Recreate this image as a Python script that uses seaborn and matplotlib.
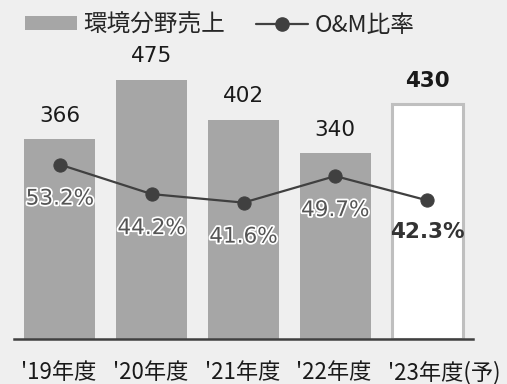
import numpy as np
import pandas as pd
import matplotlib
matplotlib.use("Agg")
import matplotlib.pyplot as plt
import matplotlib.patheffects as pe
import matplotlib.transforms as mtransforms
from matplotlib.patches import Patch
from matplotlib.lines import Line2D
import seaborn as sns

# Environmental segment sales and O&M share by fiscal year
categories = ["'19年度", "'20年度", "'21年度", "'22年度", "'23年度(予)"]
sales = [366, 475, 402, 340, 430]
om_ratio = [53.2, 44.2, 41.6, 49.7, 42.3]
ratio_labels = ["53.2%", "44.2%", "41.6%", "49.7%", "42.3%"]

sns.set_theme(style="white")
plt.rcParams["font.family"] = ["Noto Sans CJK JP", "DejaVu Sans"]

BG = "#efefef"
BAR = "#a6a6a6"
LINE = "#404040"

fig = plt.figure(figsize=(5.07, 3.84), dpi=100, facecolor=BG)
ax = fig.add_axes([14 / 507, 45 / 384, 459 / 507, 299 / 384])
ax.set_facecolor(BG)

df = pd.DataFrame({"year": categories, "sales": sales, "ratio": om_ratio})

colors = [BAR, BAR, BAR, BAR, "white"]
sns.barplot(data=df, x="year", y="sales", hue="year", palette=colors,
            legend=False, width=0.775, saturation=1, ax=ax)
for i, bar in enumerate(ax.patches):
    if i == len(categories) - 1:
        bar.set_edgecolor("#bfbfbf")
        bar.set_linewidth(2.2)
    else:
        bar.set_edgecolor("none")

ax.set_xlim(-0.5, 4.5)
ax.set_ylim(0, 548)

# value labels above bars
for i, v in enumerate(sales):
    last = i == len(sales) - 1
    ax.annotate(str(v), (i, v), xytext=(0, 17), textcoords="offset points",
                ha="center", va="center", fontsize=15.5,
                family=["DejaVu Sans"], color="#1a1a1a",
                fontweight="bold" if last else "normal")

# O&M ratio line on a secondary axis sharing the baseline
ax2 = ax.twinx()
sns.lineplot(x=np.arange(len(categories)), y=om_ratio, ax=ax2, color=LINE,
             linewidth=1.6, marker="o", markersize=9.5,
             markeredgecolor=LINE, markerfacecolor=LINE)
ax2.set_ylim(0, 91.2)
ax2.set_xlim(-0.5, 4.5)

for i, (v, lab) in enumerate(zip(om_ratio, ratio_labels)):
    last = i == len(om_ratio) - 1
    if last:
        ax2.annotate(lab, (i, v), xytext=(0, -23), textcoords="offset points",
                     ha="center", va="center", fontsize=15.5,
                     family=["DejaVu Sans"], color="#333333",
                     fontweight="bold")
    else:
        ax2.annotate(lab, (i, v), xytext=(0, -24.5), textcoords="offset points",
                     ha="center", va="center", fontsize=15.5,
                     family=["DejaVu Sans"], color="#555555",
                     path_effects=[pe.withStroke(linewidth=2.5, foreground="white")])

for a in (ax, ax2):
    for s in ("top", "right", "left"):
        a.spines[s].set_visible(False)
    a.set_ylabel("")
    a.set_xlabel("")
    a.set_yticks([])
ax2.spines["bottom"].set_visible(False)
ax.spines["bottom"].set_color(LINE)
ax.spines["bottom"].set_linewidth(1.8)
ax.tick_params(axis="x", length=0, pad=16, labelsize=16, colors="#1a1a1a")
ax2.tick_params(axis="x", length=0, labelbottom=False)

# year labels start a fixed distance left of each bar centre
shift = mtransforms.ScaledTranslation(-39 / 100, 0, fig.dpi_scale_trans)
for lbl in ax.get_xticklabels():
    lbl.set_horizontalalignment("left")
    lbl.set_transform(lbl.get_transform() + shift)

handles = [
    Patch(facecolor=BAR, edgecolor="none"),
    Line2D([0], [0], color=LINE, linewidth=1.6, marker="o", markersize=9.5),
]
fig.legend(handles, ["環境分野売上", "O&M比率"], loc="center left",
           bbox_to_anchor=(25 / 507, 1 - 25 / 384), ncol=2, frameon=False,
           fontsize=17, handlelength=2.2, handleheight=0.5,
           handletextpad=0.25, columnspacing=1.35, borderaxespad=0,
           borderpad=0)

fig.savefig("out.png", dpi=100, facecolor=BG)
